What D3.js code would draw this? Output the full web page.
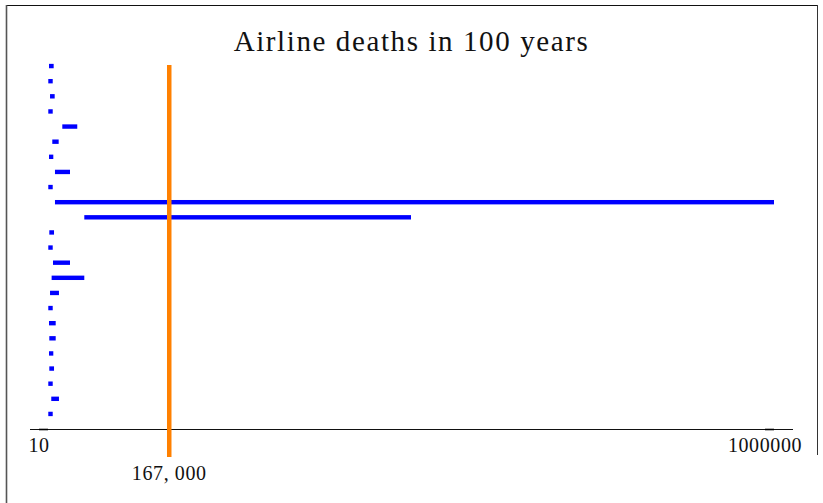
<!DOCTYPE html>
<html>
<head>
<meta charset="utf-8">
<script src="https://cdn.jsdelivr.net/npm/d3@7"></script>
<style>
  body { margin: 0; background: #fff; }
  svg { display: block; }
  text { font-family: "Liberation Serif", "DejaVu Serif", serif; fill: #111; }
</style>
</head>
<body>
<script>
// données : un segment par ligne (début, fin)
let debuts = [1400, 400, 2800, 400, 19700, 5900, 1400, 9600, 400, 9600, 50000, 1800,
    400, 6900, 5000, 2800, 400, 1400, 1800, 1400, 1800, 400, 4500, 400];
let fins = [7800, 6500, 9200, 6500, 40300, 14700, 7300, 30300, 6500, 1000000, 500000, 8300,
    6500, 30300, 50000, 15100, 6500, 10600, 10600, 7300, 8300, 6500, 15100, 6500];
let ticksValeurs = [10, 1000000];
let ticksLabels = ["10", "1000000"];
let reference = 167000;
let referenceLabel = "167, 000";
let titre = "Airline deaths in 100 years";

let largeur = 823, hauteur = 503;

let svg = d3.select('body').append('svg')
    .attr("width", largeur)
    .attr("height", hauteur)

// cadre (haut, gauche, droite)
svg.append("line").attr("x1", 6).attr("x2", 818).attr("y1", 5.5).attr("y2", 5.5)
    .attr("stroke", "#111").attr("stroke-width", 1.2)
svg.append("line").attr("x1", 6.5).attr("x2", 6.5).attr("y1", 5).attr("y2", hauteur)
    .attr("stroke", "#555").attr("stroke-width", 1.6)
svg.append("line").attr("x1", 817.5).attr("x2", 817.5).attr("y1", 5).attr("y2", 455)
    .attr("stroke", "#333").attr("stroke-width", 1)

let x = d3.scaleLinear().domain([0, 1000000]).range([48, 774]);
let y = d3.scaleBand().domain(d3.range(debuts.length)).range([58.5, 421.5]);

svg.append("text")
    .attr("x", largeur / 2)
    .attr("y", 51)
    .attr("text-anchor", "middle")
    .attr("font-size", "29px")
    .attr("letter-spacing", "1.6px")
    .text(titre)

// barres
svg.selectAll('rect.barre')
    .data(debuts)
    .enter().append('rect')
    .attr("class", "barre")
    .attr("x", function (d) { return x(d) })
    .attr("width", function (d, i) { return x(fins[i]) - x(d) })
    .attr("y", function (d, i) { return y(i) + y.bandwidth() / 2 - 2.2 })
    .attr("height", 4.4)
    .attr("fill", "#0000ff")

// axe
svg.append("line")
    .attr("x1", 30).attr("x2", 793)
    .attr("y1", 429.5).attr("y2", 429.5)
    .attr("stroke", "#111").attr("stroke-width", 1.2)

let ticks = svg.selectAll('g.tick')
    .data(ticksValeurs)
    .enter().append('g')
    .attr("class", "tick")
ticks.append("line")
    .attr("x1", function (d) { return x(d) - 9 })
    .attr("x2", function (d) { return x(d) })
    .attr("y1", 429.5).attr("y2", 429.5)
    .attr("stroke", "#000").attr("stroke-width", 1.6)
ticks.append("text")
    .attr("x", function (d) { return x(d) - 9 })
    .attr("y", 452)
    .attr("text-anchor", "middle")
    .attr("font-size", "20px")
    .attr("letter-spacing", "0.6px")
    .text(function (d, i) { return ticksLabels[i] })

// ligne de référence
svg.append("line")
    .attr("x1", x(reference)).attr("x2", x(reference))
    .attr("y1", 65).attr("y2", 457)
    .attr("stroke", "#ff8000").attr("stroke-width", 4.5)
svg.append("text")
    .attr("x", x(reference))
    .attr("y", 480)
    .attr("text-anchor", "middle")
    .attr("font-size", "20px")
    .attr("letter-spacing", "0.6px")
    .text(referenceLabel)
</script>
</body>
</html>
